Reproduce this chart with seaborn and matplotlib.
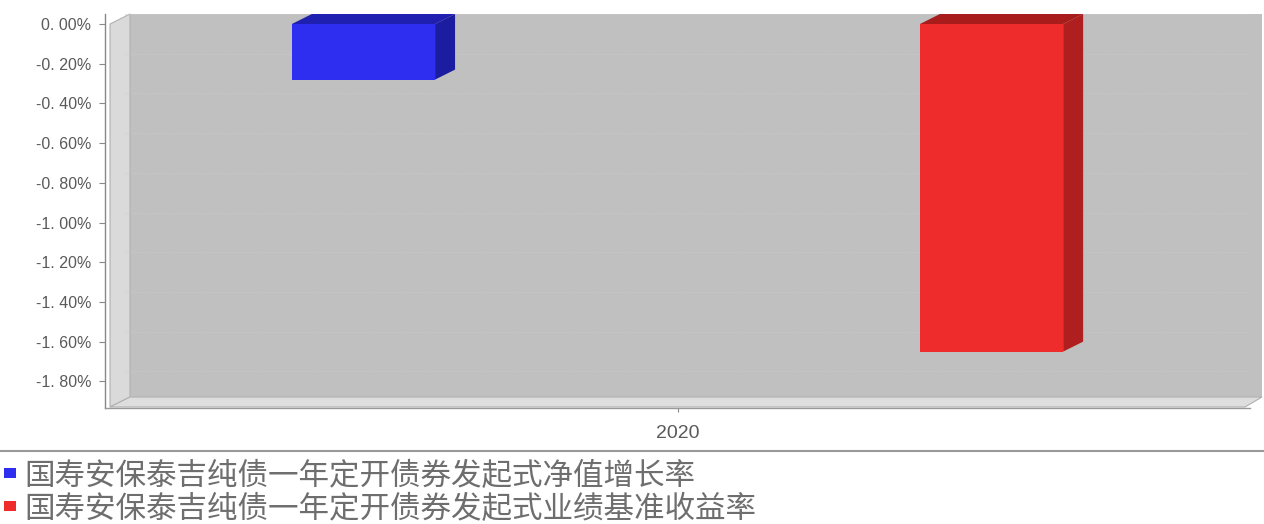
import pandas as pd
import numpy as np
import matplotlib
matplotlib.use("Agg")
import matplotlib.pyplot as plt
from matplotlib.patches import Polygon, Rectangle
from matplotlib.lines import Line2D
from matplotlib.ticker import FixedLocator, FuncFormatter
import seaborn as sns

years = ["2020"]
series = ["国寿安保泰吉纯债一年定开债券发起式净值增长率",
          "国寿安保泰吉纯债一年定开债券发起式业绩基准收益率"]
values = [-0.28, -1.65]
y_ticks = [0.0, -0.2, -0.4, -0.6, -0.8, -1.0, -1.2, -1.4, -1.6, -1.8]

front_colors = ["#2e2ef0", "#ee2c2c"]
top_colors = ["#2020b0", "#a81c1c"]
side_colors = ["#1c1ca0", "#b01f1f"]

df = pd.DataFrame({"year": years * len(series), "series": series, "value": values})

sns.set_theme(style="white")
plt.rcParams["font.family"] = ["Noto Sans CJK SC", "DejaVu Sans"]

W, H = 1264, 524
fig = plt.figure(figsize=(W / 100, H / 100), dpi=100)
fig.patch.set_facecolor("white")

# axes box in pixel terms (left, top, right, bottom)
L, T, R, B = 105, 14, 1250, 408
ax = fig.add_axes([L / W, 1 - B / H, (R - L) / W, (B - T) / H])
ax.set_facecolor("white")

sns.barplot(data=df, x="year", y="value", hue="series", palette=front_colors,
            width=0.8, gap=0.772, saturation=1, ax=ax, legend=False)
bars = [p for p in ax.patches if p.get_width() > 0 and abs(p.get_height()) > 0]
bars = sorted(bars, key=lambda p: p.get_x())

ax.set_xlim(-0.3646, 0.3646)
ax.set_ylim(-1.934, 0.0504)

dx, dy = 20, 10  # 3d depth in pixels
fig.canvas.draw()

def shift(pt):
    d = ax.transData.transform(pt)
    return ax.transData.inverted().transform(d + np.array([dx, dy]))

# walls
def afr(px, py):
    return ((px - L) / (R - L), (B - py) / (B - T))

wall_kw = dict(transform=ax.transAxes, clip_on=False)
ax.add_patch(Polygon([afr(130, 14), afr(1262, 14), afr(1262, 397), afr(130, 397)],
                     closed=True, facecolor="#c0c0c0", edgecolor="none", zorder=0.1, **wall_kw))
ax.add_patch(Polygon([afr(110, 24), afr(130, 14), afr(130, 397), afr(110, 407)],
                     closed=True, facecolor="#dadada", edgecolor="#b0b0b0", lw=0.8, zorder=0.1, **wall_kw))
ax.add_patch(Polygon([afr(110, 407), afr(130, 397), afr(1262, 397), afr(1245, 407)],
                     closed=True, facecolor="#dedede", edgecolor="#b0b0b0", lw=0.8, zorder=0.1, **wall_kw))

# faint gridlines on back wall
x0, x1 = ax.get_xlim()
for v in y_ticks:
    a = shift((x0, v))
    ax.plot([a[0], x1], [a[1], a[1]], color="#cbcbcb", lw=0.8, ls=":", zorder=0.2)

# 3d faces of bars
for i, bar in enumerate(bars):
    bx0 = bar.get_x()
    bx1 = bx0 + bar.get_width()
    ytop = max(bar.get_y(), bar.get_y() + bar.get_height())
    ybot = min(bar.get_y(), bar.get_y() + bar.get_height())
    bar.set_edgecolor("none")
    bar.set_zorder(2)
    top = [(bx0, ytop), (bx1, ytop), shift((bx1, ytop)), shift((bx0, ytop))]
    side = [(bx1, ytop), (bx1, ybot), shift((bx1, ybot)), shift((bx1, ytop))]
    ax.add_patch(Polygon(top, closed=True, facecolor=top_colors[i % 2], edgecolor="none", zorder=2))
    ax.add_patch(Polygon(side, closed=True, facecolor=side_colors[i % 2], edgecolor="none", zorder=2))

# axes styling
for s in ["top", "right"]:
    ax.spines[s].set_visible(False)
ax.spines["left"].set_color("#888888")
ax.spines["bottom"].set_color("#999999")
ax.spines["left"].set_linewidth(1.0)
ax.spines["bottom"].set_linewidth(1.0)

ax.yaxis.set_major_locator(FixedLocator(y_ticks))
ax.yaxis.set_major_formatter(FuncFormatter(
    lambda v, p: ("%.2f" % (0.0 if abs(v) < 1e-9 else v)).replace(".", ". ") + "%"))
ax.tick_params(axis="y", left=True, length=4, width=0.8, color="#888888",
               labelsize=11.5, labelcolor="#5a5a5a", pad=6,
               labelfontfamily="Liberation Sans")
ax.tick_params(axis="x", bottom=True, length=3, width=0.8, color="#888888",
               labelsize=14, labelcolor="#5a5a5a", pad=9,
               labelfontfamily="Liberation Sans")
ax.set_xlabel("")
ax.set_ylabel("")

# separator line and legend
fig.add_artist(Line2D([0, 1], [1 - 451 / H, 1 - 451 / H], transform=fig.transFigure,
                      color="#999999", lw=1.5))
for i, (lab, col) in enumerate(zip(series, front_colors)):
    yc = 473 + 33 * i
    fig.add_artist(Rectangle((4 / W, 1 - (yc + 5) / H), 12 / W, 10 / H,
                             transform=fig.transFigure, facecolor=col, edgecolor="none"))
    fig.text(24 / W, 1 - yc / H, lab, fontsize=22, color="#6e6e6e",
             ha="left", va="center_baseline")

fig.savefig("out.png", dpi=100)
